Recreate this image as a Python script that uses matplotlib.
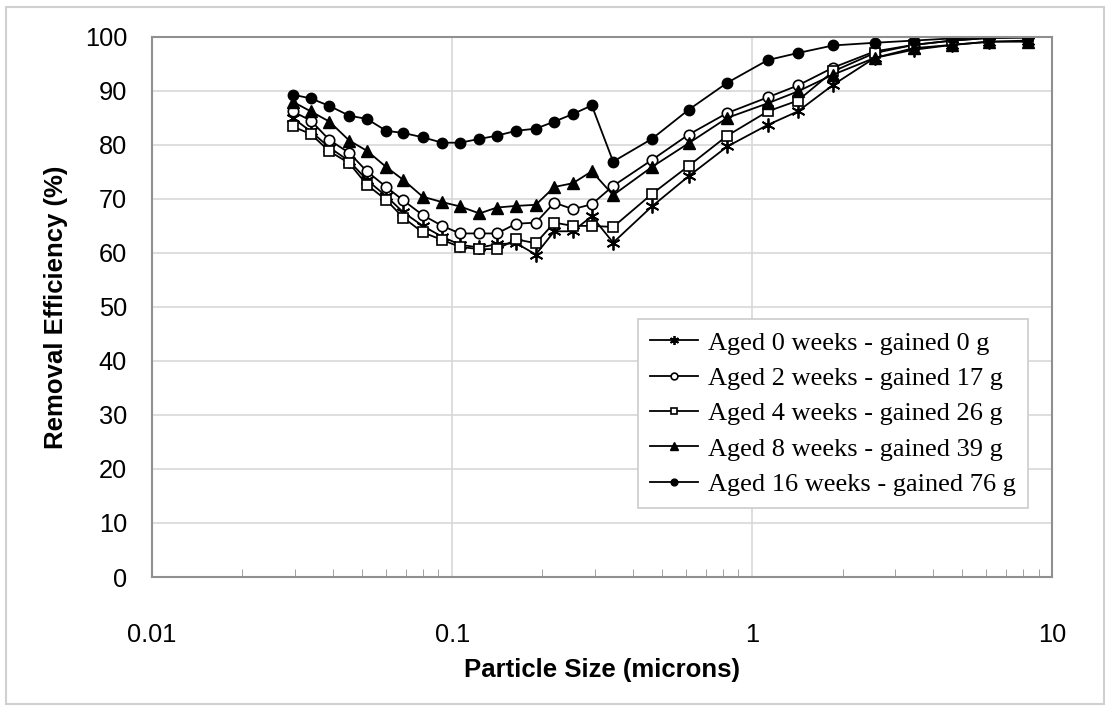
import matplotlib.pyplot as plt
import matplotlib.patches as mpatches
from matplotlib.ticker import LogLocator, NullFormatter, FixedLocator

# particle size channels (microns), SMPS + APS
size = [0.0294, 0.0338, 0.0390, 0.0454, 0.0520, 0.0603, 0.0688, 0.0798, 0.0926,
        0.1063, 0.1233, 0.141, 0.1634, 0.190, 0.219, 0.2525, 0.292,
        0.344, 0.463, 0.614, 0.826, 1.127, 1.42, 1.86, 2.56, 3.45, 4.63, 6.17, 8.27]

aged_0 = [85.0, 82.5, 79.5, 77.0, 73.5, 70.5, 67.5, 65.0, 63.0,
          61.5, 61.0, 61.6, 61.8, 59.7, 64.0, 64.0, 66.8,
          61.9, 68.6, 74.2, 79.7, 83.7, 86.2, 91.1, 96.1, 97.6, 98.5, 99.1, 99.3]
aged_2 = [86.2, 84.5, 80.9, 78.5, 75.1, 72.2, 69.7, 67.0, 65.0,
          63.6, 63.6, 63.6, 65.4, 65.6, 69.3, 68.1, 69.0,
          72.4, 77.2, 81.9, 85.9, 88.8, 91.0, 94.3, 97.3, 98.5, 99.3, 99.8, 99.9]
aged_4 = [83.4, 82.0, 78.8, 76.6, 72.6, 69.8, 66.5, 63.8, 62.4,
          61.1, 60.7, 60.7, 62.5, 61.8, 65.6, 65.0, 65.0,
          64.8, 70.9, 76.1, 81.7, 86.2, 88.2, 93.6, 97.0, 98.5, 99.3, 99.8, 99.9]
aged_8 = [88.0, 86.2, 84.3, 80.8, 78.9, 75.9, 73.5, 70.4, 69.4,
          68.6, 67.3, 68.4, 68.7, 68.9, 72.2, 72.9, 75.1,
          70.7, 75.9, 80.3, 85.0, 87.7, 89.9, 93.0, 96.1, 97.9, 98.5, 99.1, 99.1]
aged_16 = [89.3, 88.6, 87.2, 85.4, 84.8, 82.6, 82.2, 81.4, 80.4,
           80.4, 81.1, 81.7, 82.6, 83.0, 84.3, 85.7, 87.3,
           76.9, 81.1, 86.5, 91.5, 95.7, 97.0, 98.4, 98.9, 99.3, 99.7, 99.9, 99.9]

labels = ["Aged 0 weeks - gained 0 g", "Aged 2 weeks - gained 17 g",
          "Aged 4 weeks - gained 26 g", "Aged 8 weeks - gained 39 g",
          "Aged 16 weeks - gained 76 g"]

fig = plt.figure(figsize=(11.1, 7.08), dpi=100)
ax = fig.add_axes([0.137, 0.185, 0.811, 0.763])

# outer frame around the whole chart
fig.patches.append(mpatches.Rectangle((0.005, 0.006), 0.99, 0.984, transform=fig.transFigure,
                                      fill=False, edgecolor='#d0d0d0', linewidth=1.5))

ax.plot(size, aged_0, color='black', lw=1.3, marker=(6, 2, 0), ms=10, mew=1.3, label=labels[0])
ax.plot(size, aged_2, color='black', lw=1.3, marker='o', ms=7.5, mfc='white', mec='black', mew=1.2, label=labels[1])
ax.plot(size, aged_4, color='black', lw=1.3, marker='s', ms=7.5, mfc='white', mec='black', mew=1.2, label=labels[2])
ax.plot(size, aged_8, color='black', lw=1.3, marker='^', ms=8.5, label=labels[3])
ax.plot(size, aged_16, color='black', lw=1.3, marker='o', ms=7.5, label=labels[4])

ax.set_xscale('log')
ax.set_xlim(0.01, 10)
ax.set_ylim(0, 100)
ax.yaxis.set_major_locator(FixedLocator(range(0, 101, 10)))
ax.xaxis.set_minor_locator(LogLocator(base=10, subs=range(2, 10)))
ax.xaxis.set_minor_formatter(NullFormatter())
ax.set_xticks([0.01, 0.1, 1, 10])
ax.set_xticklabels(['0.01', '0.1', '1', '10'])

ax.grid(True, which='major', color='#d8d8d8', lw=1.2)
ax.set_axisbelow(True)
for s in ax.spines.values():
    s.set_color('#909090')
    s.set_linewidth(1.5)

ax.tick_params(axis='both', which='major', length=0, labelsize=18.3)
ax.tick_params(axis='y', which='major', pad=18)
ax.tick_params(axis='x', which='major', pad=33)
ax.tick_params(axis='x', which='minor', direction='in', length=6, color='#909090')
for t in ax.get_xticklabels() + ax.get_yticklabels():
    t.set_family(['Liberation Sans', 'DejaVu Sans'])

ax.set_xlabel('Particle Size (microns)', fontsize=18.5, fontweight='bold',
              family=['Liberation Sans', 'DejaVu Sans'], labelpad=8)
ax.set_ylabel('Removal Efficiency (%)', fontsize=18.5, fontweight='bold',
              family=['Liberation Sans', 'DejaVu Sans'], labelpad=12)

leg = ax.legend(loc='lower right', bbox_to_anchor=(0.973, 0.128), borderaxespad=0,
                prop={'family': 'Liberation Serif', 'size': 19},
                frameon=True, fancybox=False, edgecolor='#cccccc', framealpha=1,
                handlelength=1.8, markerscale=0.65, labelspacing=0.45, borderpad=0.45, handletextpad=0.4)
leg.get_frame().set_linewidth(1.2)

fig.savefig('out.png', dpi=100)
